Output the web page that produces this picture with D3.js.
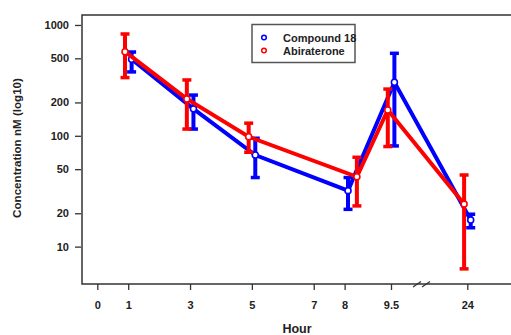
<!DOCTYPE html>
<html>
<head>
<meta charset="utf-8">
<script src="https://cdn.jsdelivr.net/npm/d3@7"></script>
<style>
body { margin: 0; background: #fff; }
text { font-family: "Liberation Sans", Arial, sans-serif; font-weight: bold; fill: #222; }
</style>
</head>
<body>
<div id="chart"></div>
<script>
// data
var hourTicks = [0, 1, 3, 5, 7, 8, 9.5, 24];
var concTicks = [10, 20, 50, 100, 200, 500, 1000];

var cmpdHours = [1, 3, 5, 8, 9.5, 24];
var cmpdMean = [490, 175, 67, 32, 304, 17.4];
var cmpdLow = [377, 115, 42, 21.7, 81, 14.8];
var cmpdHigh = [570, 233, 95, 42, 555, 19.6];

var abiHours = [1, 3, 5, 8.5, 9.5, 24];
var abiMean = [574, 215, 98, 42.7, 171, 24.2];
var abiLow = [335, 115, 71, 23.3, 80, 6.3];
var abiHigh = [829, 319, 130, 64, 264, 44.3];

var W = 511, H = 335;
var plotLeft = 82, plotTop = 15, plotBottom = 284, plotRight = 511;

var svg = d3.select('#chart').append('svg').attr('width', W).attr('height', H);

var x = d3.scaleLinear().domain([0, 9.5, 24]).range([97.3, 391, 467.3]);
var y = d3.scaleLog().domain([4.6, 1230]).range([plotBottom, plotTop]);

// frame
svg.append('path')
    .attr('d', `M${plotRight},${plotTop}H${plotLeft}V${plotBottom}H${plotRight}`)
    .attr('fill', 'none').attr('stroke', '#333').attr('stroke-width', 1.5);

// y axis
var yAxis = svg.append('g')
    .attr('transform', `translate(${plotLeft - 1},0)`)
    .call(d3.axisLeft(y).tickValues(concTicks).tickFormat(d3.format('d')).tickSize(6).tickPadding(6));
yAxis.select('.domain').remove();
yAxis.selectAll('line').attr('stroke', '#333').attr('stroke-width', 1.3);
yAxis.selectAll('text').style('font-size', '11px').attr('fill', '#222');

// x axis
var xAxis = svg.append('g')
    .attr('transform', `translate(0,${plotBottom})`)
    .call(d3.axisBottom(x).tickValues(hourTicks).tickFormat(d => d).tickSize(6).tickPadding(11));
xAxis.select('.domain').remove();
xAxis.selectAll('line').attr('stroke', '#333').attr('stroke-width', 1.3);
xAxis.selectAll('text').style('font-size', '11px').attr('fill', '#222');

// axis break marks
[413, 422].forEach(function (bx) {
    svg.append('line')
        .attr('x1', bx).attr('y1', plotBottom + 3)
        .attr('x2', bx + 8).attr('y2', plotBottom - 2.5)
        .attr('stroke', '#333').attr('stroke-width', 1.2);
});

function drawSeries(hours, mean, low, high, color, dodge) {
    var g = svg.append('g');
    var pts = hours.map((h, i) => ({ x: x(h) + dodge, m: mean[i], lo: low[i], hi: high[i] }));

    g.append('path')
        .datum(pts)
        .attr('d', d3.line().x(d => d.x).y(d => y(d.m)))
        .attr('fill', 'none')
        .attr('stroke', color)
        .attr('stroke-width', 4);

    g.selectAll('.bar').data(pts).enter().append('line')
        .attr('x1', d => d.x).attr('x2', d => d.x)
        .attr('y1', d => y(d.lo)).attr('y2', d => y(d.hi))
        .attr('stroke', color).attr('stroke-width', 4);

    ['lo', 'hi'].forEach(function (k) {
        g.selectAll('.cap' + k).data(pts).enter().append('line')
            .attr('x1', d => d.x - 4.5).attr('x2', d => d.x + 4.5)
            .attr('y1', d => y(d[k])).attr('y2', d => y(d[k]))
            .attr('stroke', color).attr('stroke-width', 3.5);
    });

    g.selectAll('circle').data(pts).enter().append('circle')
        .attr('cx', d => d.x).attr('cy', d => y(d.m))
        .attr('r', 3)
        .attr('fill', '#fff')
        .attr('stroke', color).attr('stroke-width', 1.6);
}

drawSeries(cmpdHours, cmpdMean, cmpdLow, cmpdHigh, '#0000ff', 3.4);
drawSeries(abiHours, abiMean, abiLow, abiHigh, '#ff0000', -3.2);

// legend
var legend = svg.append('g');
legend.append('rect')
    .attr('x', 252).attr('y', 24.5).attr('width', 103).attr('height', 38)
    .attr('fill', '#fff').attr('stroke', '#555').attr('stroke-width', 1.5);
[['Compound 18', '#0000ff'], ['Abiraterone', '#ff0000']].forEach(function (it, i) {
    legend.append('circle')
        .attr('cx', 264).attr('cy', 37.5 + i * 13).attr('r', 2.3)
        .attr('fill', '#fff').attr('stroke', it[1]).attr('stroke-width', 1.5);
    legend.append('text')
        .attr('x', 283).attr('y', 41.5 + i * 13)
        .style('font-size', '11px')
        .text(it[0]);
});

// axis titles
svg.append('text')
    .attr('x', 297).attr('y', 333)
    .attr('text-anchor', 'middle')
    .style('font-size', '12.5px')
    .text('Hour');

svg.append('text')
    .attr('transform', 'translate(21,148) rotate(-90)')
    .attr('text-anchor', 'middle')
    .style('font-size', '11.6px')
    .text('Concentration nM (log10)');
</script>
</body>
</html>
